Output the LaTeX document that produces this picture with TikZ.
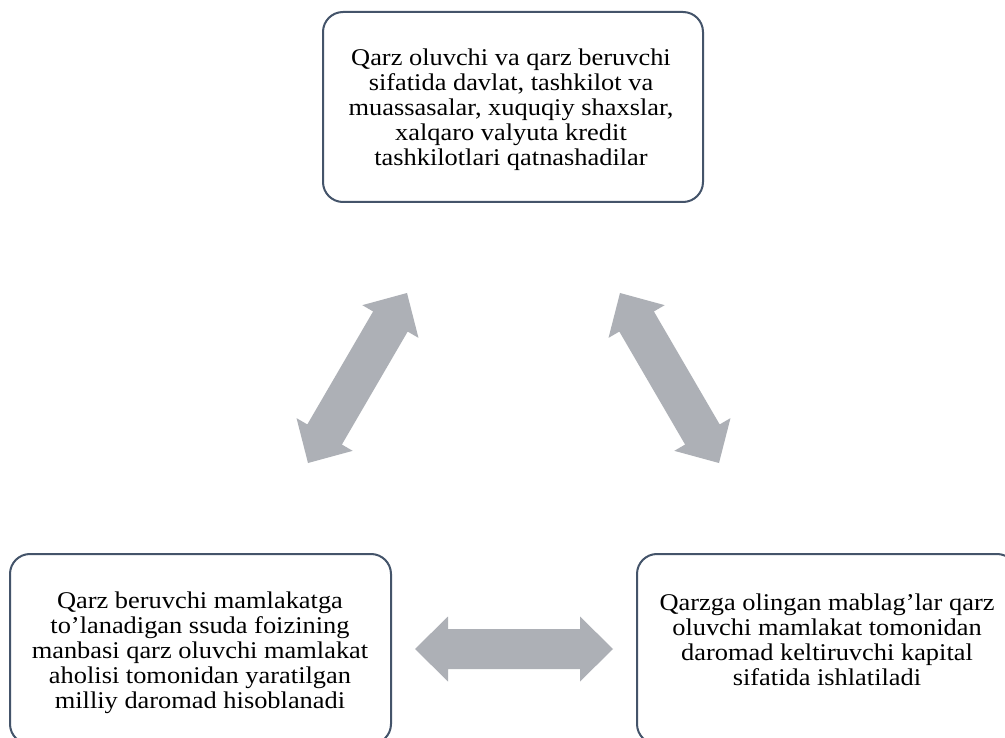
\documentclass[tikz,border=0pt]{standalone}
\usepackage{fontspec}
\setmainfont{Liberation Serif}[FakeStretch=1.1]
\usetikzlibrary{calc}
\definecolor{boxline}{RGB}{68,84,106}
\definecolor{arrowgray}{RGB}{173,176,182}
\tikzset{
  box/.style={draw=boxline, line width=2pt, rounded corners=20pt, fill=white,
    inner sep=0pt, minimum width=380pt, minimum height=190pt},
  boxtext/.style={align=center, inner sep=0pt, font=\fontsize{24}{25}\selectfont},
  blockarrow/.style={fill=arrowgray},
}
\newcommand\dblarrow[2]{%
  \fill[blockarrow] (#1)
    -- ($(#1)!33pt!(#2)!32.5pt!90:(#2)$)
    -- ($(#1)!33pt!(#2)!20pt!90:(#2)$)
    -- ($(#2)!33pt!(#1)!20pt!-90:(#1)$)
    -- ($(#2)!33pt!(#1)!32.5pt!-90:(#1)$)
    -- (#2)
    -- ($(#2)!33pt!(#1)!32.5pt!90:(#1)$)
    -- ($(#2)!33pt!(#1)!20pt!90:(#1)$)
    -- ($(#1)!33pt!(#2)!20pt!-90:(#2)$)
    -- ($(#1)!33pt!(#2)!32.5pt!-90:(#2)$)
    -- cycle;}
\begin{document}
\begin{tikzpicture}[x=1pt,y=-1pt]
\useasboundingbox (0,0) rectangle (1005,738);
\clip (0,0) rectangle (1005,738);
\fill[white] (0,0) rectangle (1005,738);
% boxes
\node[box] (top) at (513,107) {};
\node[box, minimum width=381pt] (bl) at (200.5,649) {};
\node[box] (br) at (827,649) {};
% texts
\node[boxtext] (ttop) at (511,109.5) {Qarz oluvchi va qarz beruvchi\\sifatida davlat, tashkilot va\\muassasalar, xuquqiy shaxslar,\\xalqaro valyuta kredit\\tashkilotlari qatnashadilar};
\node[boxtext] (tbl) at (200,652.5) {Qarz beruvchi mamlakatga\\to’lanadigan ssuda foizining\\manbasi qarz oluvchi mamlakat\\aholisi tomonidan yaratilgan\\milliy daromad hisoblanadi};
\node[boxtext] (tbr) at (827,640) {Qarzga olingan mablag’lar qarz\\oluvchi mamlakat tomonidan\\daromad keltiruvchi kapital\\sifatida ishlatiladi};
% arrows
\coordinate (la1) at (308,463);
\coordinate (la2) at (407,293);
\coordinate (ra1) at (620,293);
\coordinate (ra2) at (719,463);
\coordinate (ba1) at (415,649);
\coordinate (ba2) at (613,649);
\dblarrow{la1}{la2}
\dblarrow{ra1}{ra2}
\dblarrow{ba1}{ba2}
\end{tikzpicture}
\end{document}
